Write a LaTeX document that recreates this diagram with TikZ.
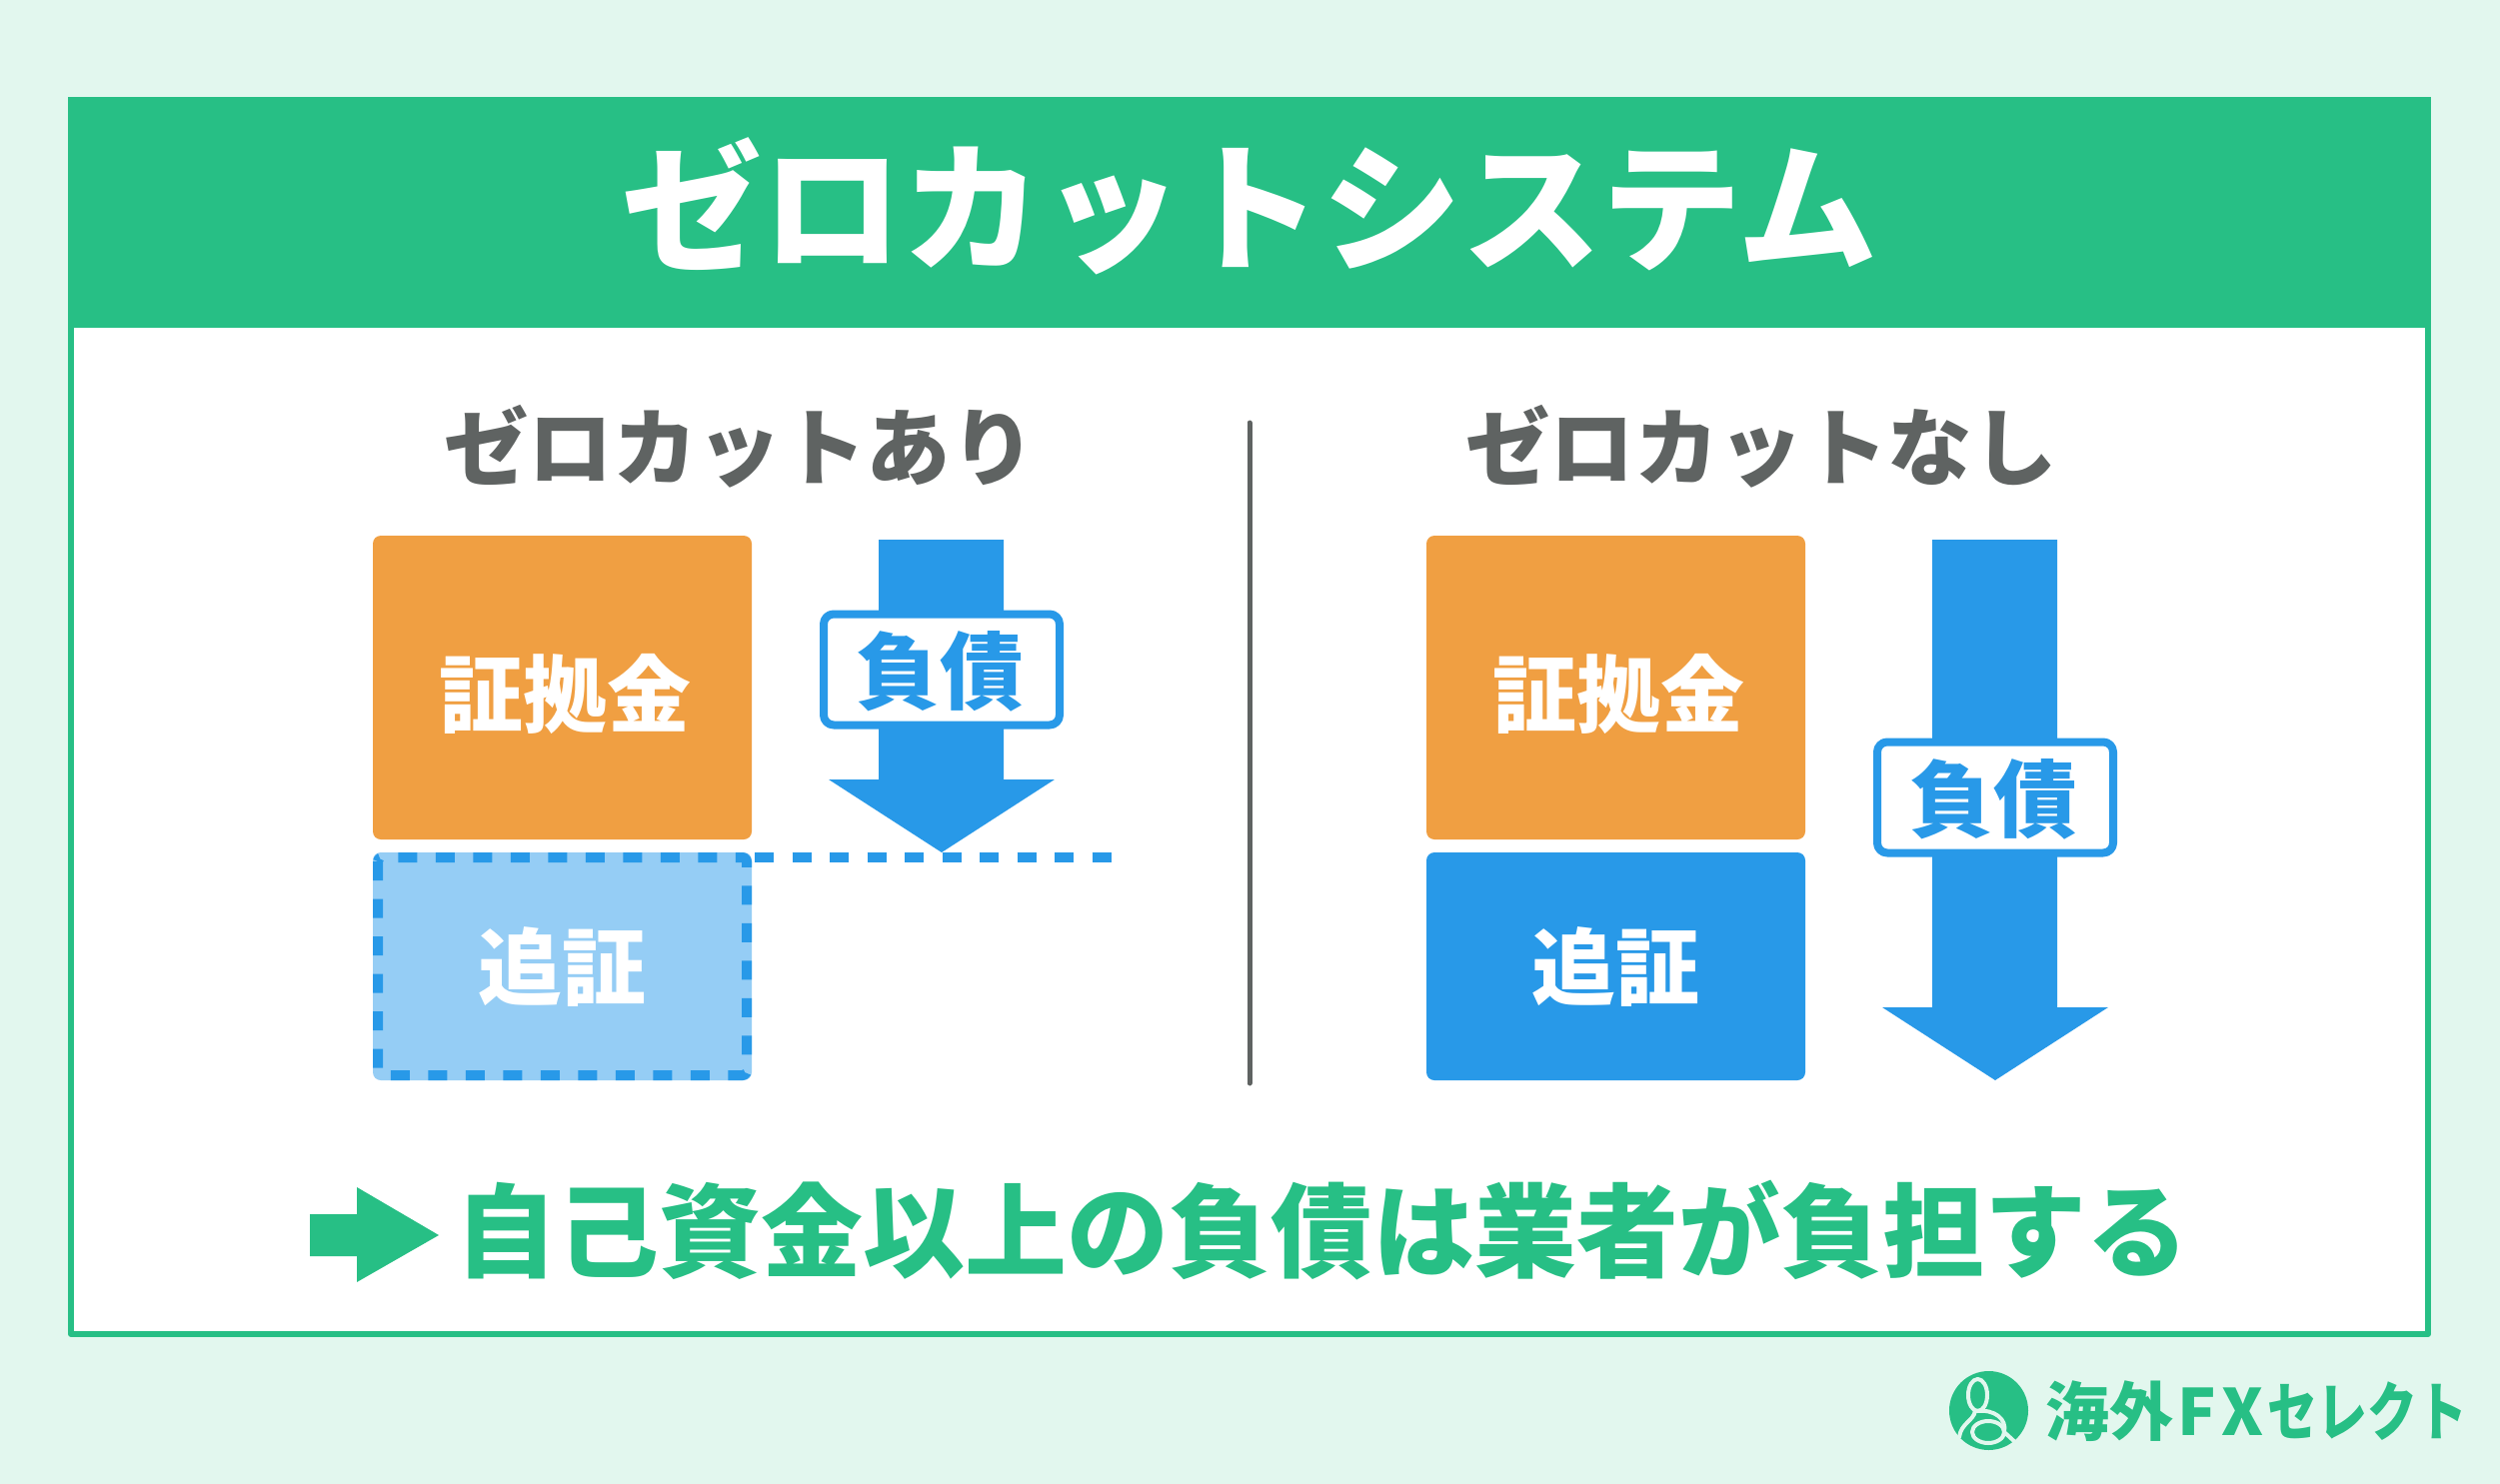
\documentclass[tikz,border=0pt]{standalone}
\usepackage{fontspec}
\newfontfamily\jpfont{Noto Sans CJK JP}
\newfontfamily\jpblack{Noto Sans CJK JP Black}
\newfontfamily\jpnarrow[FakeStretch=0.78]{Noto Sans CJK JP Bold}
\definecolor{midori}{HTML}{27BF85}
\definecolor{usumidori}{HTML}{E2F7EE}
\definecolor{aoi}{HTML}{2899E8}
\definecolor{usuao}{HTML}{95CDF5}
\definecolor{daidai}{HTML}{F09F42}
\definecolor{nezumi}{HTML}{5F6362}
\tikzset{
  moji/.style={inner sep=0,font=\jpfont\bfseries\fontsize{#1}{#1}\selectfont},
  futoi/.style={inner sep=0,font=\jpblack\fontsize{#1}{#1}\selectfont},
  hako/.style={rounded corners=8,minimum width=379},
  fuda/.style={draw=aoi,line width=8,fill=white,rounded corners=10,inner sep=0,minimum width=236,minimum height=111,text=aoi,futoi=84},
  yajirushi/.style={fill=aoi,line join=round},
}
\begin{document}
\begin{tikzpicture}[x=1pt,y=-1pt,line join=round]
  \useasboundingbox (0,0) rectangle (2501,1485);
  \fill[usumidori] (0,0) rectangle (2501,1485);
  % frame and title
  \fill[white] (71,100) rectangle (2429,1335);
  \draw[midori,line width=6] (71,100) rectangle (2429,1335);
  \fill[midori] (68,97) rectangle (2432,328);
  \node[moji=140,text=white] (title) at (1250,206) {ゼロカットシステム};
  % headings
  \node[futoi=84.5,text=nezumi] (headL) at (740,447) {ゼロカットあり};
  \node[futoi=84.5,text=nezumi] (headR) at (1762,447) {ゼロカットなし};
  \draw[nezumi,line width=5,line cap=round] (1250,423)--(1250,1084);
  % left side
  \node[hako,fill=daidai,minimum height=304] (shokoL) at (562.5,688) {};
  \node[futoi=84,text=white] (shokoLtext) at (565,694) {証拠金};
  \node[hako,fill=usuao,minimum height=228] (oiL) at (562.5,967) {};
  \node[futoi=84,text=white] (oiLtext) at (562,968) {追証};
  \draw[aoi,line width=10,dash pattern=on 19 off 18.5,rounded corners=4] (378,858) rectangle (747,1076);
  \coordinate (dotA) at (755,858);
  \coordinate (dotB) at (1112,858);
  \draw[aoi,line width=10,dash pattern=on 19 off 18.5] (dotA)--(dotB);
  \fill[yajirushi] (879,540)--(1004,540)--(1004,780)--(1055,780)--(942,853)--(829,780)--(879,780)--cycle;
  \node[fuda] (fusaiL) at (942,670) {};
  \node[futoi=84,text=aoi] (fusaiLtext) at (940,672) {負債};
  % right side
  \node[hako,fill=daidai,minimum height=304] (shokoR) at (1616.5,688) {};
  \node[futoi=84,text=white] (shokoRtext) at (1619,694) {証拠金};
  \node[hako,fill=aoi,minimum height=228] (oiR) at (1616.5,967) {};
  \node[futoi=84,text=white] (oiRtext) at (1616,968) {追証};
  \fill[yajirushi] (1933,540)--(2058,540)--(2058,1008)--(2109,1008)--(1996,1081)--(1883,1008)--(1933,1008)--cycle;
  \node[fuda] (fusaiR) at (1996,798) {};
  \node[futoi=84,text=aoi] (fusaiRtext) at (1994,800) {負債};
  % conclusion
  \fill[midori] (310,1215)--(357,1215)--(357,1188)--(439,1236)--(357,1283)--(357,1257)--(310,1257)--cycle;
  \node[futoi=102,text=midori] (matome) at (1322,1231) {自己資金以上の負債は業者が負担する};
  % logo
  \fill[midori] (1989.5,1411.5) ellipse (39.5 and 39.5);
  \begin{scope}[usumidori,line width=4,line cap=round]
    \draw (1978.5,1396) ellipse (9.5 and 16);
    \draw (1976,1412) .. controls (1974,1422) and (1962,1424) .. (1960,1438);
    \draw (1989,1433) ellipse (16 and 11);
    \draw (1978,1412) .. controls (1995,1410) and (2008,1420) .. (2005,1433) -- (2018,1445);
  \end{scope}
  \node[inner sep=0,anchor=west,text=midori,moji=64] (logo) at (2046,1412) {海外\kern4pt F\kern6pt X\kern4pt{\jpnarrow セレクト}};
\end{tikzpicture}
\end{document}
